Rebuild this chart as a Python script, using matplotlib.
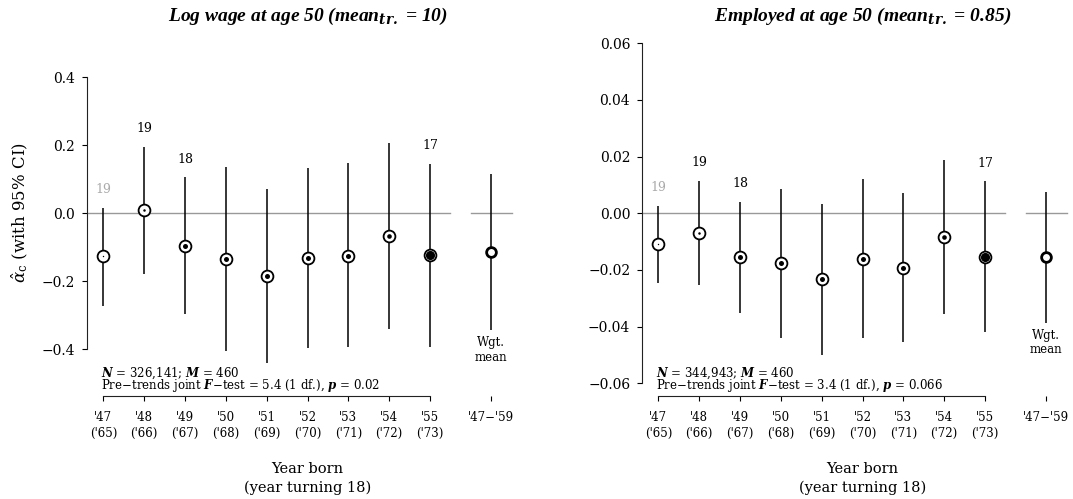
import numpy as np
import matplotlib
matplotlib.use("Agg")
import matplotlib.pyplot as plt
import matplotlib.transforms as mtransforms

plt.rcParams['font.family'] = ['DejaVu Serif']
plt.rcParams['mathtext.fontset'] = 'custom'
plt.rcParams['mathtext.rm'] = 'DejaVu Serif'
plt.rcParams['mathtext.it'] = 'DejaVu Serif:italic'
plt.rcParams['mathtext.bf'] = 'DejaVu Serif:bold'
plt.rcParams['mathtext.bfit'] = 'DejaVu Serif:italic:bold'

MINUS = "\u2212"

# cohorts (year born / year turning 18)
born = ["'47", "'48", "'49", "'50", "'51", "'52", "'53", "'54", "'55"]
turn18 = ["('65)", "('66)", "('67)", "('68)", "('69)", "('70)", "('71)", "('72)", "('73)"]
wgt_label = "'47" + MINUS + "'59"

# number of years per cohort shown above the CI
counts = ["19", "19", "18", "", "", "", "", "", "17"]
count_colors = ["#aaaaaa"] + ["black"] * 8

# relative cohort weight -> size of the inner dot (pt)
dot_size = [1.0, 1.8, 3.6, 3.6, 3.6, 3.6, 3.6, 3.3, 6.6]

# Log wage at age 50
wage_est = [-0.126, 0.009, -0.096, -0.133, -0.183, -0.130, -0.124, -0.066, -0.123]
wage_lo = [-0.271, -0.179, -0.295, -0.406, -0.439, -0.396, -0.394, -0.339, -0.392]
wage_hi = [0.017, 0.196, 0.106, 0.137, 0.073, 0.134, 0.147, 0.206, 0.146]
wage_wgt = [-0.115, -0.344, 0.116]  # est, lo, hi

# Employed at age 50
emp_est = [-0.0108, -0.0071, -0.0155, -0.0176, -0.0233, -0.0161, -0.0194, -0.0085, -0.0153]
emp_lo = [-0.0245, -0.0254, -0.0351, -0.0441, -0.0500, -0.0442, -0.0456, -0.0355, -0.0418]
emp_hi = [0.0026, 0.0115, 0.0041, 0.0086, 0.0033, 0.0120, 0.0071, 0.0188, 0.0113]
emp_wgt = [-0.0155, -0.0388, 0.0076]

panels = [
    dict(title="Log wage at age 50 (mean$_{\\mathbfit{tr.}}$ = 10)",
         est=wage_est, lo=wage_lo, hi=wage_hi, wgt=wage_wgt,
         yticks=[-0.4, -0.2, 0.0, 0.2, 0.4], fmt="{:.1f}", ylim=(-0.537, 0.539),
         n_line="$\\mathbfit{N}$ = 326,141; $\\mathbfit{M}$ = 460",
         f_line="Pre" + MINUS + "trends joint $\\mathbfit{F}$" + MINUS
                + "test = 5.4 (1 df.), $\\mathbfit{p}$ = 0.02",
         left=87, ylabel=True),
    dict(title="Employed at age 50 (mean$_{\\mathbfit{tr.}}$ = 0.85)",
         est=emp_est, lo=emp_lo, hi=emp_hi, wgt=emp_wgt,
         yticks=[-0.06, -0.04, -0.02, 0.0, 0.02, 0.04, 0.06], fmt="{:.2f}", ylim=(-0.0645, 0.0647),
         n_line="$\\mathbfit{N}$ = 344,943; $\\mathbfit{M}$ = 460",
         f_line="Pre" + MINUS + "trends joint $\\mathbfit{F}$" + MINUS
                + "test = 3.4 (1 df.), $\\mathbfit{p}$ = 0.066",
         left=642, ylabel=False),
]

W, H = 1073, 499
fig = plt.figure(figsize=(W / 100, H / 100), dpi=100)

x = np.arange(1, 10)
xw = 10.5

for p in panels:
    ax = fig.add_axes([p['left'] / W, 1 - 396 / H, 441 / W, 366 / H])
    ax.set_xlim(0.6, 0.6 + 441 / 40.84)
    ax.set_ylim(*p['ylim'])
    ax.patch.set_alpha(0)

    # zero lines
    ax.plot([0.6, 9.5], [0, 0], color="#999999", lw=1.0, zorder=1)
    ax.plot([10.0, 11.0], [0, 0], color="#999999", lw=1.0, zorder=1)

    # CIs
    ax.vlines(x, p['lo'], p['hi'], color="black", lw=1.1, zorder=2)
    ax.vlines(xw, p['wgt'][1], p['wgt'][2], color="black", lw=1.1, zorder=2)

    # markers
    ax.plot(x, p['est'], 'o', ms=8.5, mfc="white", mec="black", mew=1.3, ls="none", zorder=3)
    for xi, yi, s in zip(x, p['est'], dot_size):
        ax.plot(xi, yi, 'o', ms=s, mfc="black", mec="black", mew=0, zorder=4)
    ax.plot(xw, p['wgt'][0], 'o', ms=7, mfc="white", mec="black", mew=2.0, zorder=3)

    # counts above CI
    for xi, top, c, col in zip(x, p['hi'], counts, count_colors):
        if c:
            ax.annotate(c, (xi, top), xytext=(0, 13), textcoords="offset points",
                        ha="center", va="center", fontsize=9, color=col)
    ax.annotate("Wgt.\nmean", (xw, p['wgt'][1]), xytext=(0, -14), textcoords="offset points",
                ha="center", va="center", fontsize=8.5, linespacing=1.15)

    # stats text
    trans = mtransforms.blended_transform_factory(ax.transData, ax.transAxes)
    ax.text(0.95, 22.5 / 366, p['n_line'], transform=trans, ha="left", va="center", fontsize=8.5)
    ax.text(0.95, 10.5 / 366, p['f_line'], transform=trans, ha="left", va="center", fontsize=8.5)

    # axes
    for s in ['top', 'right']:
        ax.spines[s].set_visible(False)
    ax.spines['left'].set_bounds(p['yticks'][0], p['yticks'][-1])
    ax.spines['bottom'].set_bounds(1, 9)
    ax.spines['left'].set_color("#222222")
    ax.spines['bottom'].set_color("#222222")
    ax.set_yticks(p['yticks'])
    ax.set_yticklabels([p['fmt'].format(v).replace("-", MINUS) for v in p['yticks']])
    ax.set_xticks(list(x) + [xw])
    ax.set_xticklabels([b + "\n" + t for b, t in zip(born, turn18)] + [wgt_label],
                       linespacing=1.3)
    ax.tick_params(axis='y', length=3.5, pad=5, labelsize=10)
    ax.tick_params(axis='x', length=3.5, pad=7, labelsize=8.5)

    ax.text(0.5, 1.038, p['title'], transform=ax.transAxes, ha="center", va="center",
            fontsize=14, fontweight="bold", fontstyle="italic",
            family="Liberation Serif")
    ax.set_xlabel("Year born\n(year turning 18)", fontsize=10.5, linespacing=1.45)
    ax.xaxis.set_label_coords(0.5, -0.179)
    if p['ylabel']:
        ax.set_ylabel("$\\hat{\\alpha}_{\\mathrm{c}}$ (with 95% CI)", fontsize=12)
        ax.yaxis.set_label_coords(-0.13, 0.5)

fig.savefig("out.png", dpi=100)
